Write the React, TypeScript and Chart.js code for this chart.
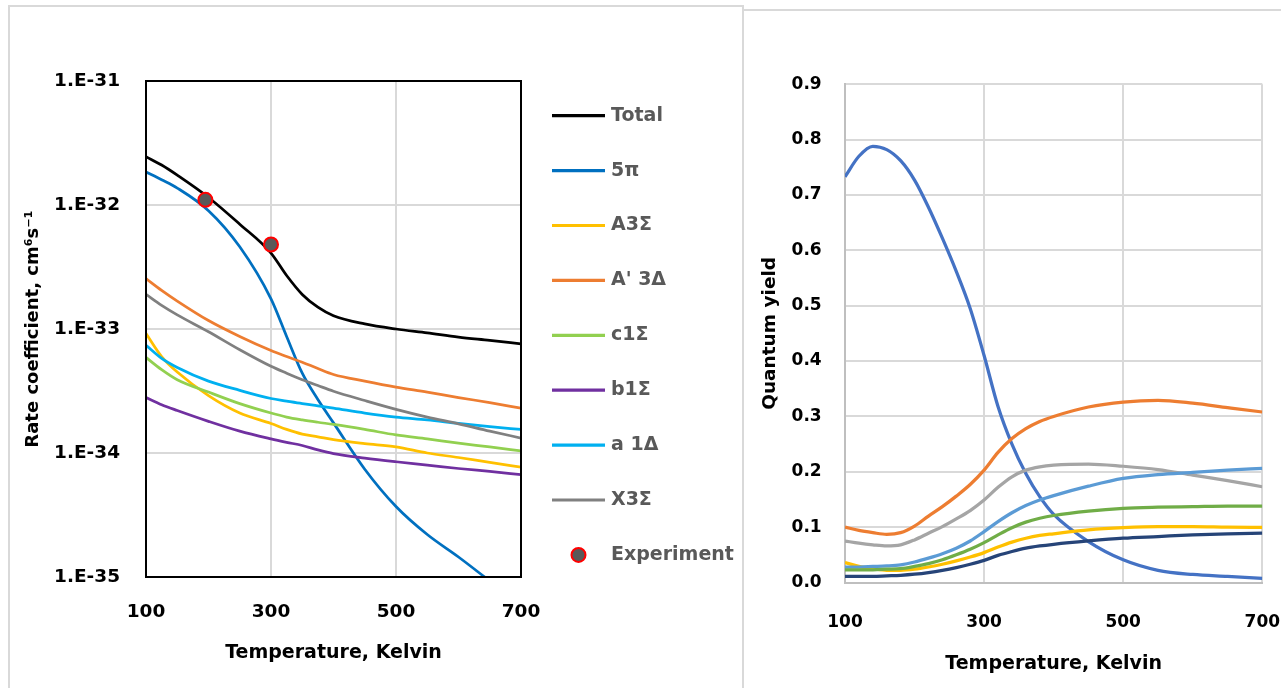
import React, { useEffect, useRef } from "react";
import { Chart, registerables } from "chart.js";
Chart.register(...registerables);

// ---------- Left chart: rate coefficients (log scale) ----------
const temps = [100, 125, 150, 200, 250, 300, 325, 350, 375, 400, 450, 500, 550, 600, 650, 700];
const total = [2.45e-32, 2.1e-32, 1.74e-32, 1.15e-32, 7.0e-33, 4.1e-33, 2.7e-33, 1.9e-33, 1.5e-33, 1.28e-33, 1.1e-33, 1.0e-33, 9.3e-34, 8.6e-34, 8.1e-34, 7.6e-34];
const fivePi = [1.85e-32, 1.6e-32, 1.37e-32, 9.0e-33, 4.6e-33, 1.75e-33, 8.7e-34, 4.4e-34, 2.7e-34, 1.75e-34, 7.4e-35, 3.7e-35, 2.2e-35, 1.45e-35, 9.3e-36, 6.0e-36];
const a3Sigma = [9.2e-34, 6.0e-34, 4.5e-34, 2.9e-34, 2.1e-34, 1.73e-34, 1.55e-34, 1.42e-34, 1.35e-34, 1.28e-34, 1.19e-34, 1.12e-34, 1.0e-34, 9.2e-35, 8.4e-35, 7.7e-35];
const aPrime3Delta = [2.55e-33, 2.05e-33, 1.68e-33, 1.17e-33, 8.7e-34, 6.7e-34, 6.0e-34, 5.4e-34, 4.8e-34, 4.3e-34, 3.8e-34, 3.4e-34, 3.1e-34, 2.8e-34, 2.55e-34, 2.3e-34];
const c1Sigma = [5.9e-34, 4.7e-34, 3.9e-34, 3.1e-34, 2.5e-34, 2.1e-34, 1.95e-34, 1.85e-34, 1.77e-34, 1.7e-34, 1.55e-34, 1.4e-34, 1.3e-34, 1.2e-34, 1.12e-34, 1.04e-34];
const b1Sigma = [2.8e-34, 2.45e-34, 2.2e-34, 1.8e-34, 1.5e-34, 1.3e-34, 1.22e-34, 1.15e-34, 1.06e-34, 9.9e-35, 9.1e-35, 8.5e-35, 8.0e-35, 7.5e-35, 7.1e-35, 6.7e-35];
const a1Delta = [7.4e-34, 5.8e-34, 4.9e-34, 3.8e-34, 3.2e-34, 2.75e-34, 2.62e-34, 2.5e-34, 2.4e-34, 2.3e-34, 2.1e-34, 1.95e-34, 1.85e-34, 1.73e-34, 1.63e-34, 1.55e-34];
const x3Sigma = [1.9e-33, 1.55e-33, 1.3e-33, 9.5e-34, 6.8e-34, 5.0e-34, 4.4e-34, 3.9e-34, 3.5e-34, 3.15e-34, 2.65e-34, 2.25e-34, 1.95e-34, 1.72e-34, 1.5e-34, 1.32e-34];
const expTemps = [195, 300];
const expValues = [1.1e-32, 4.8e-33];

const rateNames = ["Total", "5π", "A3Σ", "A' 3Δ", "c1Σ", "b1Σ", "a 1Δ", "X3Σ"];
const rateColors = ["#000000", "#0070C0", "#FFC000", "#ED7D31", "#92D050", "#7030A0", "#00B0F0", "#808080"];
const rateSeries = [total, fivePi, a3Sigma, aPrime3Delta, c1Sigma, b1Sigma, a1Delta, x3Sigma];
const expName = "Experiment";
const logTicks = [1e-35, 1e-34, 1e-33, 1e-32, 1e-31];
const tempTicks = [100, 300, 500, 700];

// ---------- Right chart: quantum yields ----------
const qyTemps = [100, 120, 140, 160, 180, 200, 220, 240, 260, 280, 300, 320, 340, 360, 380, 400, 450, 500, 550, 600, 650, 700];
const qyFivePi = [0.733, 0.77, 0.788, 0.782, 0.762, 0.727, 0.678, 0.622, 0.562, 0.495, 0.41, 0.318, 0.25, 0.197, 0.155, 0.123, 0.074, 0.041, 0.022, 0.0145, 0.011, 0.0075];
const qyAPrime3Delta = [0.1, 0.094, 0.09, 0.087, 0.09, 0.102, 0.12, 0.137, 0.156, 0.177, 0.203, 0.235, 0.26, 0.278, 0.291, 0.3, 0.317, 0.326, 0.329, 0.324, 0.316, 0.308];
const qyX3Sigma = [0.075, 0.071, 0.068, 0.066, 0.068, 0.077, 0.089, 0.101, 0.115, 0.13, 0.149, 0.172, 0.191, 0.203, 0.209, 0.212, 0.214, 0.21, 0.204, 0.194, 0.184, 0.173];
const qyA3Sigma = [0.036, 0.029, 0.025, 0.022, 0.022, 0.024, 0.028, 0.033, 0.039, 0.046, 0.054, 0.064, 0.073, 0.08, 0.085, 0.088, 0.095, 0.099, 0.101, 0.101, 0.1, 0.0995];
const qyA1Delta = [0.028, 0.028, 0.029, 0.03, 0.032, 0.037, 0.044, 0.052, 0.062, 0.075, 0.092, 0.11, 0.126, 0.139, 0.149, 0.157, 0.174, 0.188, 0.195, 0.199, 0.203, 0.206];
const qyC1Sigma = [0.023, 0.023, 0.023, 0.024, 0.025, 0.029, 0.034, 0.041, 0.05, 0.06, 0.072, 0.086, 0.099, 0.109, 0.116, 0.121, 0.129, 0.134, 0.136, 0.137, 0.138, 0.138];
const qyB1Sigma = [0.011, 0.011, 0.011, 0.012, 0.013, 0.015, 0.018, 0.022, 0.027, 0.033, 0.04, 0.049, 0.056, 0.062, 0.066, 0.069, 0.075, 0.08, 0.083, 0.086, 0.088, 0.089];
const qyNames = ["5π", "A' 3Δ", "X3Σ", "A3Σ", "a 1Δ", "c1Σ", "b1Σ"];
const qyColors = ["#4472C4", "#ED7D31", "#A5A5A5", "#FFC000", "#5B9BD5", "#70AD47", "#264478"];
const qySeries = [qyFivePi, qyAPrime3Delta, qyX3Sigma, qyA3Sigma, qyA1Delta, qyC1Sigma, qyB1Sigma];
const qyTicks = [0, 0.1, 0.2, 0.3, 0.4, 0.5, 0.6, 0.7, 0.8, 0.9];

const FAMILY = "'DejaVu Sans', 'Noto Sans', sans-serif";

const pts = (xs: number[], ys: number[]) => xs.map((x, i) => ({ x, y: ys[i] }));

const plotBorderPlugin = {
  id: "plotBorder",
  afterDatasetsDraw(chart: any) {
    const { ctx, chartArea } = chart;
    ctx.save();
    ctx.strokeStyle = "#000";
    ctx.lineWidth = 2;
    ctx.strokeRect(chartArea.left, chartArea.top, chartArea.right - chartArea.left, chartArea.bottom - chartArea.top);
    ctx.restore();
  },
};

const rateLegendPlugin = {
  id: "rateLegend",
  afterDraw(chart: any) {
    const ctx = chart.ctx;
    ctx.save();
    ctx.font = `bold 19px ${FAMILY}`;
    ctx.textBaseline = "middle";
    ctx.textAlign = "left";
    const x0 = 542, x1 = 595, tx = 601, y0 = 108.7, dy = 54.9;
    rateNames.forEach((name, i) => {
      const y = y0 + i * dy;
      ctx.strokeStyle = rateColors[i];
      ctx.lineWidth = 3.2;
      ctx.beginPath();
      ctx.moveTo(x0, y);
      ctx.lineTo(x1, y);
      ctx.stroke();
      ctx.fillStyle = "#595959";
      ctx.fillText(name, tx, y);
    });
    const y = y0 + rateNames.length * dy;
    ctx.beginPath();
    ctx.arc((x0 + x1) / 2, y, 7, 0, Math.PI * 2);
    ctx.fillStyle = "#595959";
    ctx.fill();
    ctx.strokeStyle = "#FF0000";
    ctx.lineWidth = 2;
    ctx.stroke();
    ctx.fillStyle = "#595959";
    ctx.fillText(expName, tx, y);
    ctx.restore();
  },
};

export default function App() {
  const leftRef = useRef<HTMLCanvasElement>(null);
  const rightRef = useRef<HTMLCanvasElement>(null);

  useEffect(() => {
    const tickFontL = { family: FAMILY, size: 18.5, weight: "bold" as const, lineHeight: 1.2 };
    const tickFontR = { family: FAMILY, size: 17, weight: "bold" as const, lineHeight: 1.2 };

    const rateDatasets: any[] = rateSeries.map((s, i) => ({
      label: rateNames[i],
      data: pts(temps, s),
      borderColor: rateColors[i],
      backgroundColor: rateColors[i],
      borderWidth: 2.75,
      pointRadius: 0,
      cubicInterpolationMode: "monotone",
      fill: false,
      order: rateSeries.length - i,
    }));
    rateDatasets.push({
      label: expName,
      data: pts(expTemps, expValues),
      showLine: false,
      pointRadius: 7,
      pointBorderWidth: 2,
      pointBackgroundColor: "#595959",
      pointBorderColor: "#FF0000",
      order: -1,
    });

    const left = new Chart(leftRef.current!, {
      type: "line",
      data: { datasets: rateDatasets },
      options: {
        animation: false,
        responsive: false,
        events: [],
        layout: { padding: { top: 74, left: 0, right: 222, bottom: 0 } },
        plugins: { legend: { display: false }, tooltip: { enabled: false } },
        scales: {
          x: {
            type: "linear",
            min: 100,
            max: 700,
            afterFit: (s: any) => { s.height = 111; s.paddingLeft = 0; s.paddingRight = 0; },
            afterBuildTicks: (s: any) => { s.ticks = tempTicks.map((v) => ({ value: v })); },
            ticks: { font: tickFontL, color: "#000", padding: 24.4, autoSkip: false, maxRotation: 0, callback: (v: any) => String(v) },
            grid: { color: "#d9d9d9", lineWidth: 2, drawTicks: false },
            border: { display: false },
            title: { display: true, text: "Temperature, Kelvin", color: "#000", font: { family: FAMILY, size: 19, weight: "bold", lineHeight: 1.2 }, padding: { top: 0, bottom: 23.6 } },
          },
          y: {
            type: "logarithmic",
            min: 1e-35,
            max: 1e-31,
            afterFit: (s: any) => { s.width = 136; },
            afterBuildTicks: (s: any) => { s.ticks = logTicks.map((v) => ({ value: v })); },
            ticks: { font: tickFontL, color: "#000", padding: 26, autoSkip: false, callback: (v: any) => "1.E" + Math.round(Math.log10(Number(v))) },
            grid: { color: "#d9d9d9", lineWidth: 2, drawTicks: false },
            border: { display: false },
            title: { display: true, text: "Rate coefficient, cm⁶s⁻¹", color: "#000", font: { family: FAMILY, size: 18, weight: "bold", lineHeight: 1.2 }, padding: { top: 12.2, bottom: 0 } },
          },
        },
      } as any,
      plugins: [plotBorderPlugin, rateLegendPlugin],
    });

    const right = new Chart(rightRef.current!, {
      type: "line",
      data: {
        datasets: qySeries.map((s, i) => ({
          label: qyNames[i],
          data: pts(qyTemps, s),
          borderColor: qyColors[i],
          backgroundColor: qyColors[i],
          borderWidth: 3.25,
          pointRadius: 0,
          cubicInterpolationMode: "monotone",
          fill: false,
          order: qySeries.length - i,
        })) as any,
      },
      options: {
        animation: false,
        responsive: false,
        events: [],
        layout: { padding: { top: 73.3, left: 0, right: 18.7, bottom: 0 } },
        plugins: { legend: { display: false }, tooltip: { enabled: false } },
        scales: {
          x: {
            type: "linear",
            min: 100,
            max: 700,
            afterFit: (s: any) => { s.height = 105.5; s.paddingLeft = 0; s.paddingRight = 0; },
            afterBuildTicks: (s: any) => { s.ticks = tempTicks.map((v) => ({ value: v })); },
            ticks: { font: tickFontR, color: "#000", padding: 30.3, autoSkip: false, maxRotation: 0, callback: (v: any) => String(v) },
            grid: { color: "#d9d9d9", lineWidth: 2, drawTicks: false },
            border: { display: true, color: "#bfbfbf", width: 2 },
            title: { display: true, text: "Temperature, Kelvin", color: "#000", font: { family: FAMILY, size: 19, weight: "bold", lineHeight: 1.2 }, padding: { top: 0, bottom: 13 } },
          },
          y: {
            type: "linear",
            min: 0,
            max: 0.9,
            afterFit: (s: any) => { s.width = 100; },
            afterBuildTicks: (s: any) => { s.ticks = qyTicks.map((v) => ({ value: v })); },
            ticks: { font: tickFontR, color: "#000", padding: 23.3, autoSkip: false, callback: (v: any) => Number(v).toFixed(1) },
            grid: { color: "#d9d9d9", lineWidth: 2, drawTicks: false },
            border: { display: true, color: "#bfbfbf", width: 2 },
            title: { display: true, text: "Quantum yield", color: "#000", font: { family: FAMILY, size: 18.5, weight: "bold", lineHeight: 1.2 }, padding: { top: 14.5, bottom: 0 } },
          },
        },
      } as any,
    });

    return () => {
      left.destroy();
      right.destroy();
    };
  }, []);

  return (
    <div style={{ position: "fixed", left: 0, top: 0, width: 1281, height: 688, overflow: "hidden", background: "#fff" }}>
      <div style={{ position: "absolute", left: 8, top: 5, width: 736, height: 720, boxSizing: "border-box", borderStyle: "solid", borderColor: "#d9d9d9", borderWidth: "2px 2px 0 2px" }} />
      <div style={{ position: "absolute", left: 744, top: 9, width: 600, height: 2, background: "#d9d9d9" }} />
      <canvas ref={leftRef} width={733} height={681} style={{ position: "absolute", left: 10, top: 7, width: 733, height: 681 }} />
      <canvas ref={rightRef} width={536} height={677} style={{ position: "absolute", left: 745, top: 11, width: 536, height: 677 }} />
    </div>
  );
}
